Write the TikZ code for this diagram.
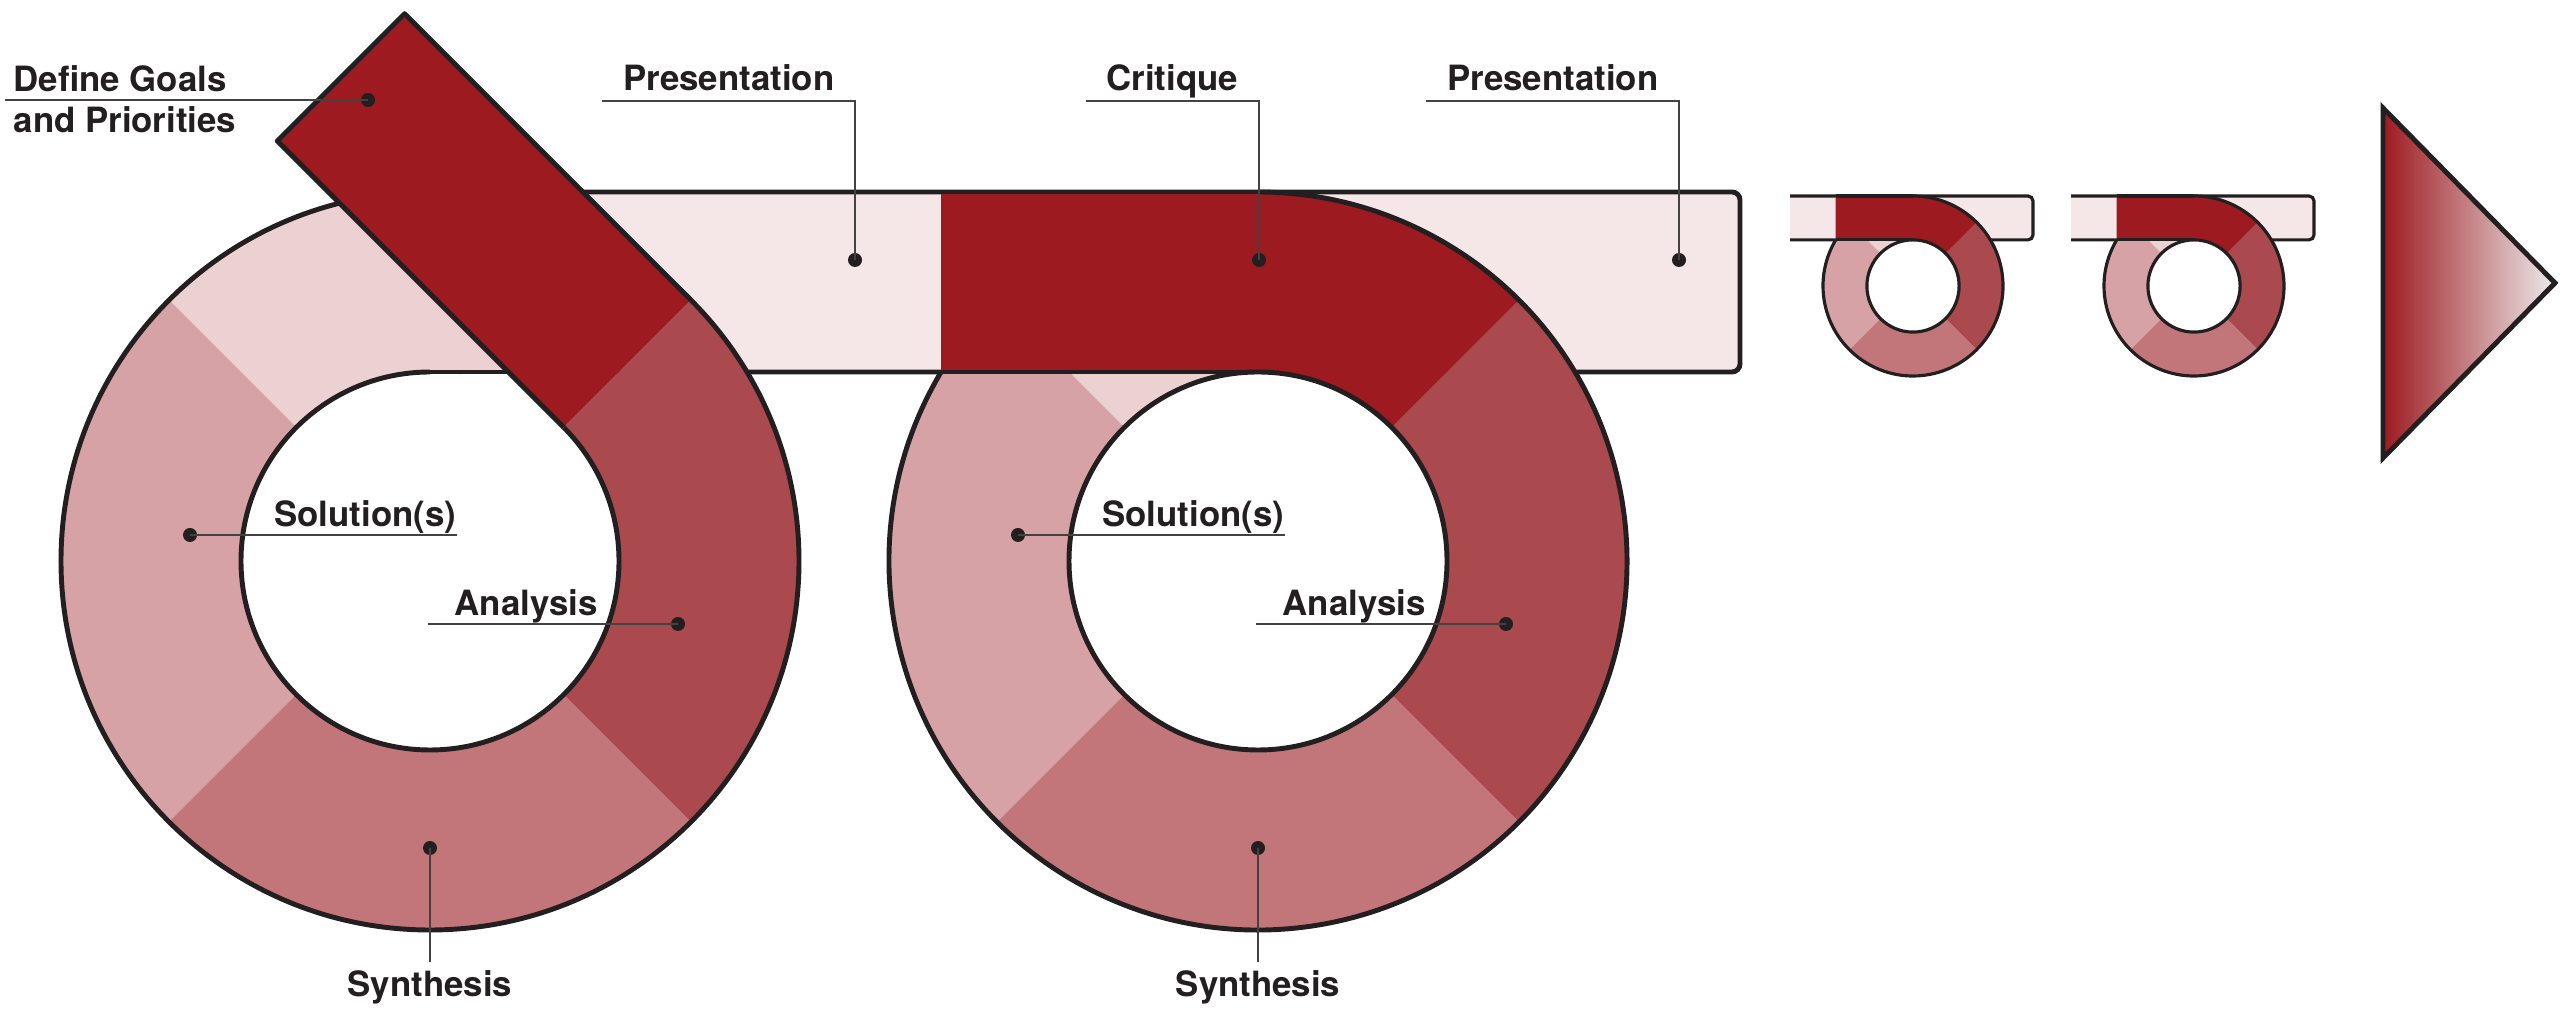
\documentclass[tikz,border=0pt]{standalone}
\usepackage{fontspec}
\setmainfont{TeX Gyre Heros}
\usepackage{xcolor}

\definecolor{inkblack}{RGB}{35,31,32}
\definecolor{stripred}{RGB}{157,26,32}
\definecolor{ringright}{RGB}{170,74,78}
\definecolor{ringbottom}{RGB}{195,118,122}
\definecolor{ringleft}{RGB}{215,162,165}
\definecolor{ringtop}{RGB}{236,209,210}
\definecolor{bandpink}{RGB}{245,231,232}
\definecolor{arrowgrey}{RGB}{236,235,235}

\begin{document}
\begin{tikzpicture}[x=0.01cm, y=0.01cm,
    ringline/.style={draw=inkblack, line width=1.4pt},
    smallline/.style={draw=inkblack, line width=0.9pt},
    leader/.style={draw=inkblack!85, line width=0.6pt},
    labeldot/.style={circle, fill=inkblack, inner sep=0pt, minimum size=0.14cm},
    lbl/.style={font=\bfseries\fontsize{9.9}{11.5}\selectfont, text=inkblack,
                inner xsep=0pt, inner ysep=0.08cm, text height=7.2pt, text depth=0pt},
    toplbl/.style={lbl, inner xsep=0.2cm, inner ysep=0.1cm}]

        \useasboundingbox (0,0) rectangle (2560,1012);

        % band
        \fill[bandpink] (430,640) rectangle (1740,820);
        \draw[ringline, rounded corners=0.08cm] (430,820) -- (1740,820) -- (1740,640) -- (430,640);

        % first loop
        \begin{scope}[shift={(430,451)}]
        \foreach \a/\c in {45/ringtop, 135/ringleft, 225/ringbottom, 315/ringright}
        {
        \fill[\c] (\a:369) arc[start angle=\a, end angle=\a+90, radius=369]
            -- (\a+90:189) arc[start angle=\a+90, end angle=\a, radius=189] -- cycle;
        }
        \fill[white] (0,0) circle[radius=189];
        \fill[white] (0,189) -- (78,189) -- (45:189) arc[start angle=45, end angle=90, radius=189] -- cycle;
        \draw[ringline] (0,0) circle[radius=369];
        \draw[ringline] (90:189) arc[start angle=90, end angle=405, radius=189];
        \draw[ringline] (0,189) -- (100,189);
        % goals strip
        \fill[stripred] (45:369) -- ++(135:405) -- ++(225:180) -- (45:189) -- cycle;
        \draw[ringline, line join=round] (45:189) -- ++(135:405) -- ++(45:180) -- (45:369);
        \end{scope}

        % second loop
        \begin{scope}[shift={(1258,451)}]
        \foreach \a/\c in {45/ringtop, 135/ringleft, 225/ringbottom, 315/ringright}
        {
        \fill[\c] (\a:369) arc[start angle=\a, end angle=\a+90, radius=369]
            -- (\a+90:189) arc[start angle=\a+90, end angle=\a, radius=189] -- cycle;
        }
        \fill[stripred] (-317,189) -- (-317,369) -- (0,369) arc[start angle=90, end angle=45, radius=369]
            -- (45:189) arc[start angle=45, end angle=90, radius=189] -- cycle;
        \fill[white] (0,0) circle[radius=189];
        \draw[ringline] (149.2:369) arc[start angle=149.2, end angle=450, radius=369];
        \draw[ringline] (0,0) circle[radius=189];
        \draw[ringline] (-317,369) -- (0,369);
        \draw[ringline] (-317,189) -- (0,189);
        \end{scope}

        % small loops
        \foreach \m in {1913, 2194}
        {
        \begin{scope}[shift={(\m,726)}, scale=0.2439]
        \fill[bandpink] (-504,189) rectangle (492,369);
        \draw[smallline, rounded corners=0.05cm] (-504,369) -- (492,369) -- (492,189) -- (-504,189);
        \foreach \a/\c in {45/ringtop, 135/ringleft, 225/ringbottom, 315/ringright}
        {
        \fill[\c] (\a:369) arc[start angle=\a, end angle=\a+90, radius=369]
            -- (\a+90:189) arc[start angle=\a+90, end angle=\a, radius=189] -- cycle;
        }
        \fill[stripred] (-317,189) -- (-317,369) -- (0,369) arc[start angle=90, end angle=45, radius=369]
            -- (45:189) arc[start angle=45, end angle=90, radius=189] -- cycle;
        \fill[white] (0,0) circle[radius=189];
        \draw[smallline] (149.2:369) arc[start angle=149.2, end angle=450, radius=369];
        \draw[smallline] (0,0) circle[radius=189];
        \draw[smallline] (-317,369) -- (0,369);
        \draw[smallline] (-317,189) -- (0,189);
        \end{scope}
        }

        % arrow head
        \shadedraw[left color=stripred, right color=arrowgrey, draw=inkblack, line width=1.4pt]
            (2383,904) -- (2555,729) -- (2383,554) -- cycle;

        % goals label
        \node[labeldot] (goalsdot) at (368,912) {};
        \node[lbl, anchor=south west, inner xsep=0.08cm] (goals) at (5,912) {Define Goals};
        \node[lbl, anchor=base west] (prio) at (13,879) {and Priorities};
        \draw[leader] (goalsdot.center) -- (goals.south west);

        % top labels
        \node[labeldot] (presdot) at (855,752) {};
        \node[toplbl, anchor=south east] (pres) at (855,911) {Presentation};
        \draw[leader] (presdot.center) -- (pres.south east) -- (pres.south west);

        \node[labeldot] (critdot) at (1259,752) {};
        \node[toplbl, anchor=south east] (crit) at (1259,911) {Critique};
        \draw[leader] (critdot.center) -- (crit.south east) -- (crit.south west);

        \node[labeldot] (presbdot) at (1679,752) {};
        \node[toplbl, anchor=south east] (presb) at (1679,911) {Presentation};
        \draw[leader] (presbdot.center) -- (presb.south east) -- (presb.south west);

        % loop labels
        \foreach \cx/\n in {430/a, 1258/b}
        {
        \node[labeldot] (soldot\n) at (\cx-240,477) {};
        \node[lbl, anchor=south east] (sol\n) at (\cx+27,477) {Solution(s)};
        \draw[leader] (soldot\n.center) -- (sol\n.south east);

        \node[labeldot] (anadot\n) at (\cx+248,388) {};
        \node[lbl, anchor=south west, inner xsep=0.26cm] (ana\n) at (\cx-2,388) {Analysis};
        \draw[leader] (anadot\n.center) -- (ana\n.south west);

        \node[labeldot] (syndot\n) at (\cx,164) {};
        \node[lbl, anchor=north] (syn\n) at (\cx,50) {Synthesis};
        \draw[leader] (syndot\n.center) -- (syn\n.north);
        }

      \end{tikzpicture}
\end{document}
